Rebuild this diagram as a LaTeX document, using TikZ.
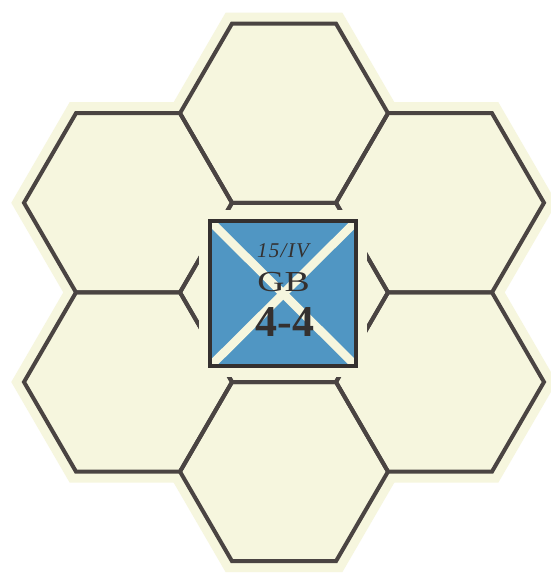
\documentclass[tikz,border=0pt]{standalone}
\usepackage{fontspec}
\setmainfont{Liberation Serif}
\definecolor{cream}{RGB}{246,246,222}
\definecolor{hexline}{RGB}{74,68,66}
\definecolor{counterblue}{RGB}{80,150,195}
\definecolor{counterink}{RGB}{52,48,47}
\newcommand\hexpathat[2]{(#1+104,#2) -- (#1+52,#2+89.6) -- (#1-52,#2+89.6) -- (#1-104,#2) -- (#1-52,#2-89.6) -- (#1+52,#2-89.6) -- cycle}
\begin{document}
\begin{tikzpicture}[x=1pt,y=-1pt,
  hexfill/.style={fill=cream,draw=cream,line width=22pt,line join=miter},
  hexedge/.style={draw=hexline,line width=4pt,line join=miter},
  counterbox/.style={fill=counterblue,inner sep=0pt,minimum width=146pt,minimum height=145pt},
  counterborder/.style={draw=counterink,line width=4pt},
  crossbar/.style={draw=cream,line width=8.5pt},
  countertext/.style={inner sep=0pt,text=counterink}
]
\useasboundingbox[fill=white] (0,0) rectangle (551,574);
% cream ground of the hex cluster
\foreach \cx/\cy in {284/113.2,128/202.8,440/202.8,284/292.4,128/382,440/382,284/471.6}
  {\path[hexfill] \hexpathat{\cx}{\cy};}
% hex outlines
\foreach \cx/\cy in {284/113.2,128/202.8,440/202.8,284/292.4,128/382,440/382,284/471.6}
  {\path[hexedge] \hexpathat{\cx}{\cy};}
% clear margin round the counter
\fill[cream] (199,210) rectangle (367,377);
% counter
\node[counterbox,anchor=north west] (counter) at (210,221) {};
\begin{scope}
  \clip (counter.north west) rectangle (counter.south east);
  \path[crossbar] (counter.north west) -- (counter.south east);
  \path[crossbar] (counter.north east) -- (counter.south west);
\end{scope}
\path[counterborder] (counter.north west) rectangle (counter.south east);
\node[countertext,font=\itshape\fontsize{21}{21}\selectfont\addfontfeature{LetterSpace=6}] (unit) at (283,251) {15/IV};
\node[countertext,font=\fontsize{29}{29}\selectfont\addfontfeature{FakeStretch=1.3}] (type) at (283.5,282) {GB};
\node[countertext,font=\bfseries\fontsize{44}{44}\selectfont] (strength) at (285,322) {4-4};
\end{tikzpicture}
\end{document}
